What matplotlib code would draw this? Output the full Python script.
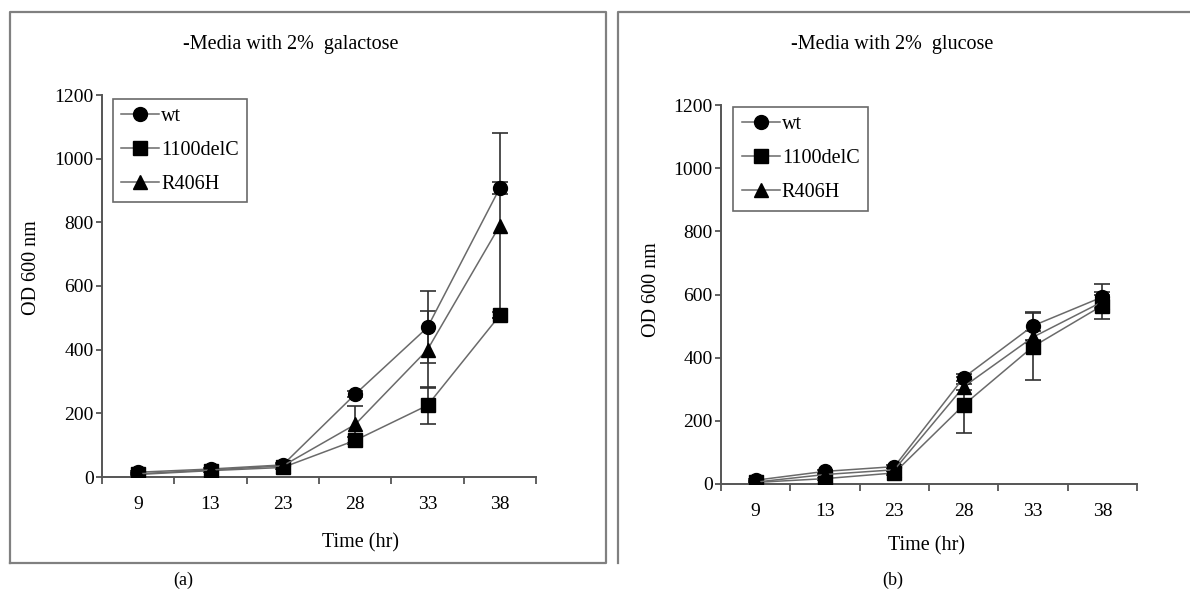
import matplotlib
matplotlib.use("Agg")
import matplotlib.pyplot as plt
from matplotlib.lines import Line2D
import numpy as np

plt.rcParams['font.family'] = ['Liberation Serif', 'DejaVu Serif']

categories = ['9', '13', '23', '28', '33', '38']
series_names = ['wt', '1100delC', 'R406H']

# Panel (a): galactose
gal_wt = [15, 25, 38, 260, 470, 908]
gal_delc = [8, 20, 30, 115, 225, 508]
gal_r406h = [10, 22, 35, 165, 400, 790]
gal_wt_err = [3, 3, 5, 10, 113, 20]
gal_delc_err = [2, 3, 5, 10, 57, 10]
gal_r406h_err = [2, 3, 5, 58, 120, 290]

# Panel (b): glucose
glu_wt = [12, 40, 55, 337, 501, 592]
glu_delc = [5, 17, 35, 250, 435, 565]
glu_r406h = [6, 30, 45, 308, 465, 577]
glu_wt_err = [3, 4, 5, 10, 45, 40]
glu_delc_err = [2, 3, 5, 88, 105, 42]
glu_r406h_err = [2, 3, 5, 10, 20, 20]

yticks = [0, 200, 400, 600, 800, 1000, 1200]
markers = ['o', 's', '^']

fig = plt.figure(figsize=(11.9, 5.98), dpi=100)

# outer panel boxes
gray = '#808080'
fig.add_artist(Line2D([10/1190, 10/1190, 606/1190, 606/1190, 10/1190],
                      [1-563/598, 1-12/598, 1-12/598, 1-563/598, 1-563/598],
                      color=gray, lw=1.6, transform=fig.transFigure))
fig.add_artist(Line2D([618/1190, 618/1190, 1.0],
                      [1-563/598, 1-12/598, 1-12/598],
                      color=gray, lw=1.6, transform=fig.transFigure))


def draw(rect, vals, errs, title, title_xy, ylab_xy, xlab_xy, leg_anchor):
    ax = fig.add_axes(rect)
    x = np.arange(len(categories))
    for v, e, m, name in zip(vals, errs, markers, series_names):
        ax.errorbar(x, v, yerr=e, fmt='none', ecolor='#303030', elinewidth=1.2,
                    capsize=6, capthick=1.2, zorder=2)
        ax.plot(x, v, color='#6a6a6a', lw=1.1, marker=m, markersize=10,
                markerfacecolor='black', markeredgecolor='black', label=name, zorder=3)
    ax.set_xlim(-0.5, len(categories) - 0.5)
    ax.set_ylim(0, 1200)
    ax.set_yticks(yticks)
    ax.set_yticklabels([str(t) for t in yticks], fontsize=14)
    ax.set_xticks(np.arange(-0.5, len(categories), 1.0))
    ax.set_xticklabels([])
    ax.set_xticks(x, minor=True)
    ax.set_xticklabels(categories, minor=True, fontsize=14)
    ax.tick_params(axis='x', which='major', direction='out', length=5, width=1.3, color='#555555')
    ax.tick_params(axis='x', which='minor', length=0, pad=14)
    ax.tick_params(axis='y', direction='out', length=4, width=1.3, color='#555555', pad=2)
    for s in ['top', 'right']:
        ax.spines[s].set_visible(False)
    for s in ['left', 'bottom']:
        ax.spines[s].set_color('#555555')
        ax.spines[s].set_linewidth(1.4)
    leg = ax.legend(loc='upper left', bbox_to_anchor=leg_anchor, fontsize=14.5,
                    frameon=True, fancybox=False, edgecolor='#444444',
                    handlelength=1.9, handletextpad=0.1, labelspacing=0.75,
                    borderpad=0.4, borderaxespad=0)
    leg.get_frame().set_linewidth(1.2)
    fig.text(title_xy[0], title_xy[1], title, fontsize=14.5, ha='center', va='center')
    fig.text(ylab_xy[0], ylab_xy[1], 'OD 600 nm', fontsize=14.5, ha='center', va='center',
             rotation=90)
    fig.text(xlab_xy[0], xlab_xy[1], 'Time (hr)', fontsize=14.5, ha='center', va='center')
    return ax


draw([102/1190, 1-477/598, 434/1190, 382/598],
     [gal_wt, gal_delc, gal_r406h], [gal_wt_err, gal_delc_err, gal_r406h_err],
     '-Media with 2%  galactose', (291/1190, 1-45/598), (31/1190, 1-268/598),
     (360/1190, 1-543/598), (0.025, 0.99))

draw([721/1190, 1-484/598, 416/1190, 379/598],
     [glu_wt, glu_delc, glu_r406h], [glu_wt_err, glu_delc_err, glu_r406h_err],
     '-Media with 2%  glucose', (892/1190, 1-45/598), (651/1190, 1-290/598),
     (926/1190, 1-546/598), (0.03, 0.995))

fig.text(183/1190, 1-580/598, '(a)', fontsize=13, ha='center', va='center')
fig.text(893/1190, 1-580/598, '(b)', fontsize=13, ha='center', va='center')

fig.savefig('out.png', dpi=100)
